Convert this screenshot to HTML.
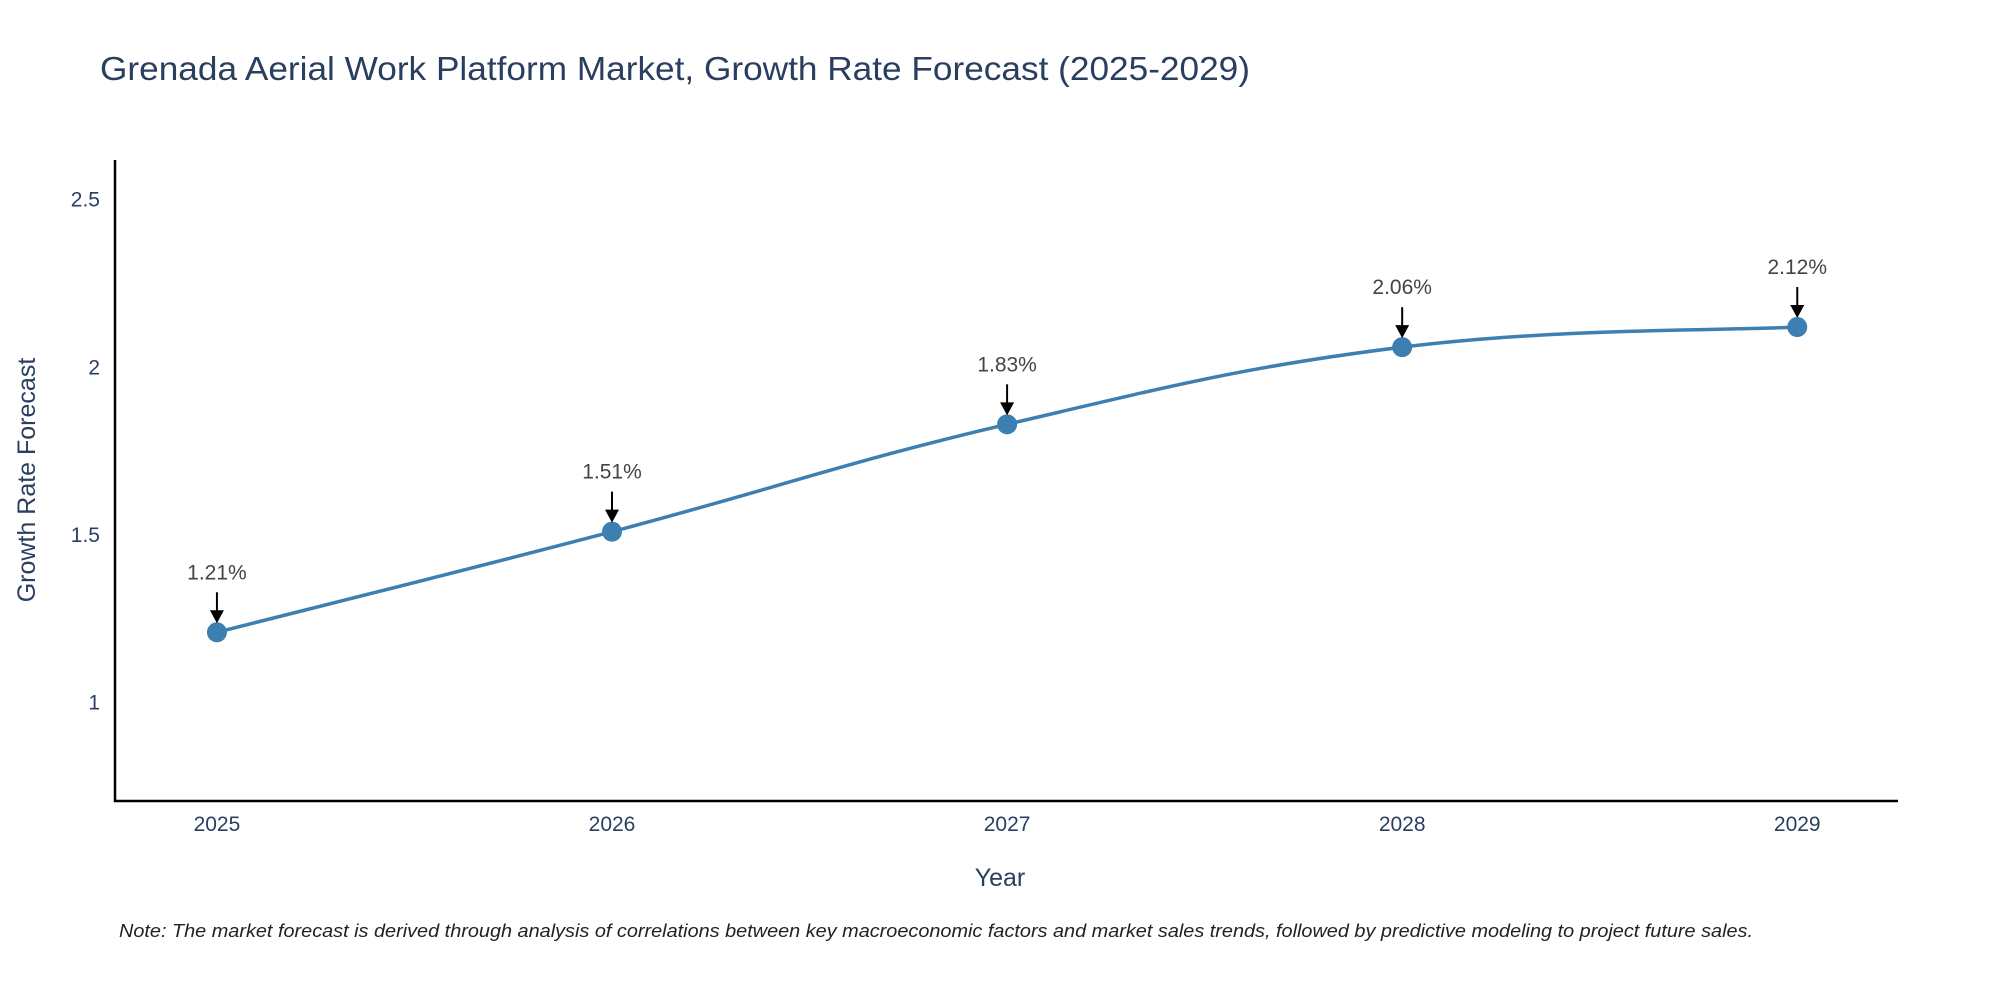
<!DOCTYPE html>
<html><head><meta charset="utf-8"><style>
body{margin:0;background:#fff}
svg{display:block;font-family:"Liberation Sans",sans-serif}
</style></head><body>
<svg id="chart" width="2000" height="1000" viewBox="0 0 2000 1000">
<text x="100" y="80" font-size="33" fill="#2a3f5f" textLength="1150" lengthAdjust="spacingAndGlyphs">Grenada Aerial Work Platform Market, Growth Rate Forecast (2025-2029)</text>
<g id="ticks"></g>
<g id="series"></g>
<line x1="115" y1="160" x2="115" y2="802" stroke="#000" stroke-width="2.5"/>
<line x1="114" y1="801" x2="1898" y2="801" stroke="#000" stroke-width="2.5"/>
<text x="1000" y="886" font-size="25" fill="#2a3f5f" text-anchor="middle">Year</text>
<text transform="translate(35,480) rotate(-90)" font-size="25" fill="#2a3f5f" text-anchor="middle">Growth Rate Forecast</text>
<text x="119" y="937" font-size="18" font-style="italic" fill="#222" textLength="1634" lengthAdjust="spacingAndGlyphs">Note: The market forecast is derived through analysis of correlations between key macroeconomic factors and market sales trends, followed by predictive modeling to project future sales.</text>
</svg>
<script>
const years = [2025, 2026, 2027, 2028, 2029];
const values = [1.21, 1.51, 1.83, 2.06, 2.12];
const labels = ["1.21%", "1.51%", "1.83%", "2.06%", "2.12%"];
const yTicks = [1, 1.5, 2, 2.5];

const NS = "http://www.w3.org/2000/svg";
const X0 = 115, X1 = 1898, Y0 = 801, Y1 = 160;
const xMin = 2024.742, xMax = 2029.255, yMin = 0.707, yMax = 2.618;
const xs = v => X0 + (v - xMin) / (xMax - xMin) * (X1 - X0);
const ys = v => Y0 - (v - yMin) / (yMax - yMin) * (Y0 - Y1);
function mk(tag, attrs, parent) {
  const e = document.createElementNS(NS, tag);
  for (const k in attrs) e.setAttribute(k, attrs[k]);
  parent.appendChild(e); return e;
}
const tg = document.getElementById('ticks');
yTicks.forEach(t => {
  const e = mk('text', {x: 100, y: ys(t) + 7, 'font-size': 21, fill: '#2a3f5f', 'text-anchor': 'end'}, tg);
  
  
  e.textContent = String(t);
});
years.forEach(y => {
  const e = mk('text', {x: xs(y), y: 831, 'font-size': 21, fill: '#2a3f5f', 'text-anchor': 'middle'}, tg);
  
  
  e.textContent = String(y);
});
const sg = document.getElementById('series');
const pts = years.map((y, i) => [xs(y), ys(values[i])]);
let d = `M${pts[0][0]},${pts[0][1]}`;
const s = 0.2;
for (let i = 0; i < pts.length - 1; i++) {
  const p0 = pts[Math.max(i - 1, 0)], p1 = pts[i], p2 = pts[i + 1], p3 = pts[Math.min(i + 2, pts.length - 1)];
  const c1 = [p1[0] + (p2[0] - p0[0]) * s, p1[1] + (p2[1] - p0[1]) * s];
  const c2 = [p2[0] - (p3[0] - p1[0]) * s, p2[1] - (p3[1] - p1[1]) * s];
  d += ` C${c1[0]},${c1[1]} ${c2[0]},${c2[1]} ${p2[0]},${p2[1]}`;
}
const line = mk('path', {d, fill: 'none', stroke: '#3d7fb0', 'stroke-width': 3.5}, sg);


pts.forEach((p, i) => {
  const c = mk('circle', {cx: p[0], cy: p[1], r: 10, fill: '#3d7fb0'}, sg);
  
  
  const a = mk('line', {x1: p[0], y1: p[1] - 40, x2: p[0], y2: p[1] - 20, stroke: '#000', 'stroke-width': 2}, sg);
  
  
  const h = mk('polygon', {points: `${p[0] - 7},${p[1] - 22} ${p[0] + 7},${p[1] - 22} ${p[0]},${p[1] - 9}`, fill: '#000'}, sg);
  
  
  const t = mk('text', {x: p[0], y: p[1] - 53, 'font-size': 21, fill: '#444', 'text-anchor': 'middle'}, sg);
  
  
  t.textContent = labels[i];
});
</script>
</body></html>
